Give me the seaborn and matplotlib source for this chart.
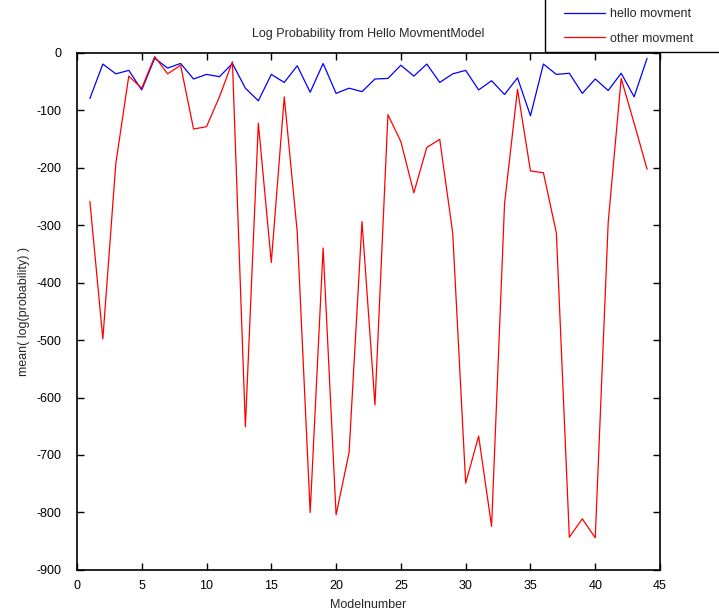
import matplotlib
matplotlib.use("Agg")
import matplotlib.pyplot as plt
from matplotlib.patches import Rectangle
import seaborn as sns
import pandas as pd

model_number = list(range(1, 45))
hello_movment = [-80, -20, -37, -31, -65, -10, -27, -19, -46, -38, -42, -19, -62, -84, -38,
                 -52, -23, -69, -19, -71, -62, -68, -46, -45, -22, -41, -20, -52, -37, -31,
                 -65, -49, -73, -44, -110, -20, -38, -36, -71, -46, -66, -36, -77, -10]
other_movment = [-259, -498, -193, -41, -62, -7, -37, -22, -133, -129, -77, -16, -651, -123, -365,
                 -77, -312, -800, -340, -804, -696, -294, -613, -108, -155, -244, -165, -151, -314, -749,
                 -667, -824, -263, -64, -206, -209, -314, -843, -811, -844, -295, -45, -123, -203]
series_names = ["hello movment", "other movment"]
x_ticks = list(range(0, 50, 5))
y_ticks = list(range(-900, 100, 100))

df = pd.DataFrame({
    "Modelnumber": model_number * 2,
    "value": hello_movment + other_movment,
    "series": [series_names[0]] * len(model_number) + [series_names[1]] * len(model_number),
})

sns.set_style("ticks")
plt.rcParams["font.family"] = ["Liberation Sans", "DejaVu Sans"]
plt.rcParams["axes.unicode_minus"] = False

fig = plt.figure(figsize=(7.19, 6.16), dpi=100)
ax = fig.add_axes([0.107, 0.0747, 0.811, 0.840])

sns.lineplot(data=df, x="Modelnumber", y="value", hue="series",
             palette={series_names[0]: "#0000ff", series_names[1]: "#ff0000"},
             linewidth=0.9, ax=ax, legend=False)

ax.set_xlim(0, 45)
ax.set_ylim(-900, 0)
ax.set_xticks(x_ticks)
ax.set_yticks(y_ticks)
ax.tick_params(axis="both", direction="in", top=True, right=True, length=5, width=1,
               labelsize=9, colors="black")
ax.tick_params(axis="y", pad=11)
ax.tick_params(axis="x", pad=7)
for s in ax.spines.values():
    s.set_visible(True)
    s.set_linewidth(1.2)
    s.set_color("black")

ax.set_xlabel("Modelnumber", fontsize=9, labelpad=5)
ax.set_ylabel("mean( log(probability) )", fontsize=9, labelpad=5)
fig.text(0.512, 0.945, "Log Probability from Hello MovmentModel", ha="center", va="center", fontsize=9)

# legend box extending past the figure's top-right corner
fig.patches.append(Rectangle((545 / 719, 1 - 52 / 616), 0.4, 0.2, transform=fig.transFigure,
                             fill=False, edgecolor="black", linewidth=1.0, zorder=5))
handles = [plt.Line2D([], [], color="#0000ff", lw=0.9), plt.Line2D([], [], color="#ff0000", lw=0.9)]
leg = fig.legend(handles, series_names, loc="center left", bbox_to_anchor=(564 / 719, 1 - 26.5 / 616),
                 frameon=False, fontsize=9, handlelength=3.3, handletextpad=0.35,
                 borderpad=0, labelspacing=1.0, borderaxespad=0)

fig.savefig("out.png", dpi=100)
